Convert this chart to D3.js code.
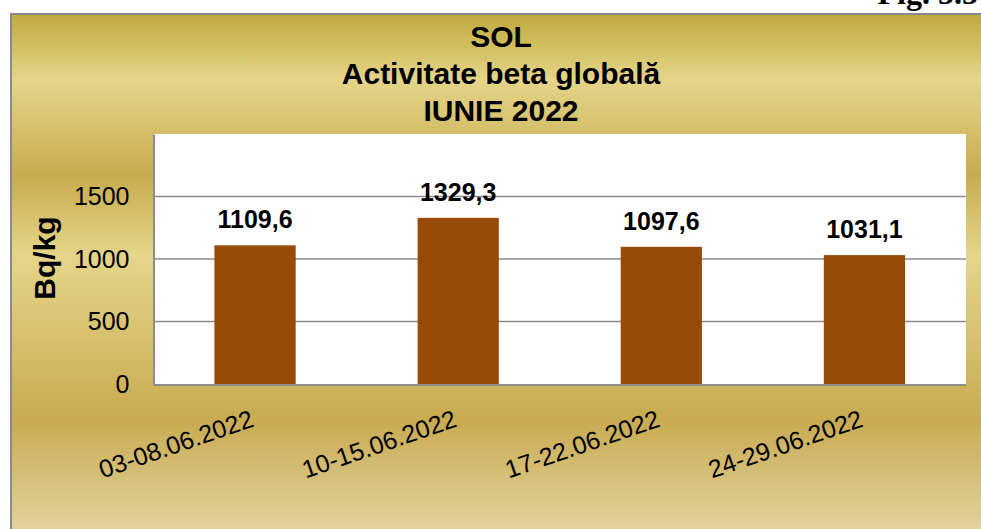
<!DOCTYPE html>
<html>
<head>
<meta charset="utf-8">
<script src="https://cdn.jsdelivr.net/npm/d3@7"></script>
<style>
  body { margin: 0; background: #fff; }
  svg { display: block; font-family: Arial, "Liberation Sans", sans-serif; }
</style>
</head>
<body>
<svg id="chart" width="981" height="529"></svg>
<script>
const categories = ['03-08.06.2022', '10-15.06.2022', '17-22.06.2022', '24-29.06.2022'];
const values = [1109.6, 1329.3, 1097.6, 1031.1];
const yTicks = [0, 500, 1000, 1500];
const titleLines = ['SOL', 'Activitate beta globală', 'IUNIE 2022'];
const yTitle = 'Bq/kg';
const figLabel = 'Fig. 5.5';

const svg = d3.select('#chart');
const plot = { left: 153.5, top: 134, right: 966, bottom: 384 };

const ro = d3.formatLocale({ decimal: ',', thousands: '', grouping: [3], currency: ['', ''] });
const fmt = ro.format('.1f');

// gold background gradient
const grad = svg.append('defs').append('linearGradient')
  .attr('id', 'gold')
  .attr('gradientUnits', 'userSpaceOnUse')
  .attr('x1', 0).attr('y1', 13).attr('x2', 0).attr('y2', 529);
[[13, '#bfa83a'], [80, '#e5d589'], [175, '#c7ab4f'], [255, '#e5d589'],
 [420, '#c8ab52'], [529, '#e1d29c']].forEach(([y, c]) => {
  grad.append('stop').attr('offset', (y - 13) / (529 - 13)).attr('stop-color', c);
});

svg.append('text')
  .attr('x', 978).attr('y', 4)
  .attr('text-anchor', 'end')
  .style('font-family', '"Liberation Serif", "Times New Roman", serif')
  .style('font-weight', 'bold')
  .style('font-size', '32px')
  .text(figLabel);

svg.append('rect')
  .attr('x', 11).attr('y', 14)
  .attr('width', 1000).attr('height', 600)
  .attr('fill', 'url(#gold)')
  .attr('stroke', '#8a8a8a').attr('stroke-width', 2);

// title
svg.append('g').selectAll('text')
  .data(titleLines)
  .join('text')
  .attr('x', 501)
  .attr('y', (d, i) => 47 + i * 37)
  .attr('text-anchor', 'middle')
  .style('font-weight', 'bold')
  .style('font-size', '30px')
  .text(d => d);

const x = d3.scaleBand()
  .domain(categories)
  .range([plot.left, plot.right])
  .paddingInner(0.6)
  .paddingOuter(0.3);

const y = d3.scaleLinear()
  .domain([0, 2000])
  .range([plot.bottom, plot.top]);

svg.append('rect')
  .attr('x', plot.left).attr('y', plot.top)
  .attr('width', plot.right - plot.left)
  .attr('height', plot.bottom - plot.top)
  .attr('fill', '#fff');

// gridlines
svg.append('g').selectAll('line')
  .data(yTicks.filter(d => d > 0))
  .join('line')
  .attr('x1', plot.left).attr('x2', plot.right)
  .attr('y1', d => y(d)).attr('y2', d => y(d))
  .attr('stroke', '#8c8c8c').attr('stroke-width', 1.5);

// y axis
const yAxis = svg.append('g')
  .attr('transform', `translate(${plot.left},0)`)
  .call(d3.axisLeft(y).tickValues(yTicks).tickFormat(d3.format('d')).tickSize(0).tickPadding(24));
yAxis.select('.domain').attr('stroke', '#8c8c8c').attr('stroke-width', 2);
yAxis.selectAll('text')
  .style('font-size', '25px')
  .style('font-family', 'Arial, "Liberation Sans", sans-serif')
  .attr('fill', '#000');

svg.append('text')
  .attr('transform', 'translate(55,258) rotate(-90)')
  .attr('text-anchor', 'middle')
  .style('font-weight', 'bold')
  .style('font-size', '30px')
  .text(yTitle);

// bars
svg.append('g').selectAll('rect')
  .data(values)
  .join('rect')
  .attr('x', (d, i) => x(categories[i]))
  .attr('y', d => y(d))
  .attr('width', x.bandwidth())
  .attr('height', d => y(0) - y(d))
  .attr('fill', '#984a08');

// x axis line
svg.append('line')
  .attr('x1', plot.left).attr('x2', plot.right)
  .attr('y1', plot.bottom + 1).attr('y2', plot.bottom + 1)
  .attr('stroke', '#8c8c8c').attr('stroke-width', 2);

// value labels
svg.append('g').selectAll('text')
  .data(values)
  .join('text')
  .attr('x', (d, i) => x(categories[i]) + x.bandwidth() / 2)
  .attr('y', d => y(d) - 17)
  .attr('text-anchor', 'middle')
  .style('font-weight', 'bold')
  .style('font-size', '25px')
  .text(d => fmt(d));

// x labels
svg.append('g').selectAll('text')
  .data(categories)
  .join('text')
  .attr('transform', d => `translate(${x(d) + x.bandwidth() / 2},426) rotate(-19)`)
  .attr('text-anchor', 'end')
  .style('font-size', '25px')
  .text(d => d);
</script>
</body>
</html>
